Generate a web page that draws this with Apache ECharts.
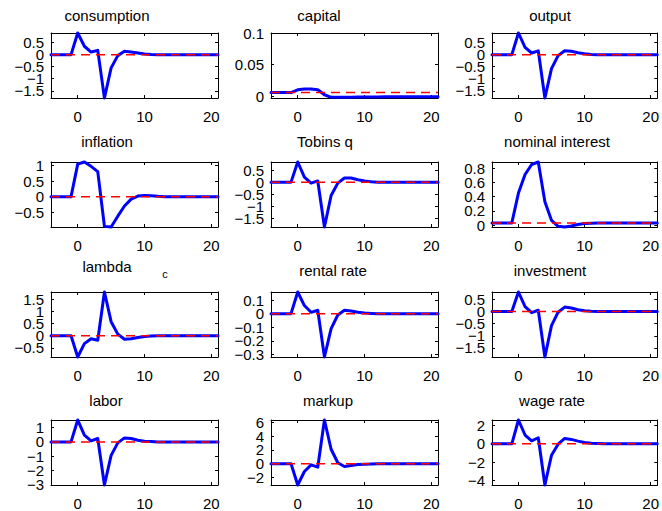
<!DOCTYPE html>
<html><head><meta charset="utf-8">
<script src="https://cdn.jsdelivr.net/npm/echarts@6/dist/echarts.min.js"></script>
<style>html,body{margin:0;padding:0;background:#fff}#c{width:662px;height:511px}</style>
</head><body><div id="c"></div>
<script>
const periods = [-4,-3,-2,-1,0,1,2,3,4,5,6,7,8,9,10,11,12,13,14,15,16,17,18,19,20,21];
const titles = ['consumption','capital','output','inflation','Tobins q','nominal interest','lambda','rental rate','investment','labor','markup','wage rate'];
const lambdaSub = 'c';

const consumption = [0,0,0,0,0.9,0.35,0.11,0.18,-1.8,-0.55,-0.04,0.14,0.11,0.07,0.03,0.01,0,0,0,0,0,0,0,0,0,0];
const capital = [0.006,0.006,0.006,0.006,0.0105,0.0116,0.0116,0.0105,0.0026,-0.0015,-0.0015,-0.0013,-0.0012,-0.0011,-0.001,-0.0009,-0.0008,-0.0007,-0.0007,-0.0006,-0.0006,-0.0005,-0.0005,-0.0004,-0.0004,-0.0004];
const output = [0,0,0,0,0.9,0.3,0.07,0.16,-1.8,-0.58,-0.04,0.16,0.14,0.08,0.04,0.01,0,0,0,0,0,0,0,0,0,0];
const inflation = [0,0,0,0,1.05,1.12,0.98,0.81,-0.96,-0.98,-0.63,-0.3,-0.08,0.02,0.04,0.03,0.01,0,0,0,0,0,0,0,0,0];
const tobinsQ = [0,0,0,0,0.83,0.21,-0.04,0.05,-1.85,-0.55,-0.04,0.17,0.17,0.1,0.05,0.02,0,0,0,0,0,0,0,0,0,0];
const nominalInterest = [0.033,0.033,0.033,0.033,0.45,0.71,0.85,0.885,0.33,0.07,-0.015,-0.024,-0.01,0.01,0.024,0.03,0.033,0.033,0.033,0.033,0.033,0.033,0.033,0.033,0.033,0.033];
const lambdaC = [0,0,0,0,-0.87,-0.32,-0.12,-0.18,1.8,0.58,0.07,-0.14,-0.12,-0.07,-0.03,-0.01,0,0,0,0,0,0,0,0,0,0];
const rentalRate = [0,0,0,0,0.16,0.06,0.01,0.025,-0.32,-0.11,-0.01,0.025,0.02,0.01,0.005,0.002,0,0,0,0,0,0,0,0,0,0];
const investment = [0,0,0,0,0.8,0.2,-0.05,0.05,-1.87,-0.58,-0.03,0.18,0.14,0.07,0.03,0.01,0,0,0,0,0,0,0,0,0,0];
const labor = [0,0,0,0,1.53,0.47,0.07,0.24,-3.01,-0.94,-0.07,0.28,0.24,0.12,0.05,0.02,0,0,0,0,0,0,0,0,0,0];
const markup = [0,0,0,0,-3.07,-1.12,-0.15,-0.49,6.34,2.1,0.15,-0.4,-0.25,-0.1,-0.05,-0.02,0,0,0,0,0,0,0,0,0,0];
const wageRate = [0,0,0,0,2.6,0.96,0.33,0.66,-4.5,-1.25,-0.04,0.59,0.48,0.29,0.15,0.07,0.03,0,0,0,0,0,0,0,0,0];

const steady = [0,0.006,0,0,0,0.033,0,0,0,0,0,0];
const yLow  = [-1.8,-0.0025,-1.8,-0.98,-1.85,-0.024,-0.87,-0.32,-1.87,-3.01,-3.07,-4.5];
const yHigh = [0.9,0.1,0.9,1.12,0.83,0.885,1.8,0.16,0.8,1.53,6.34,2.6];
const yStep = [0.5,0.05,0.5,0.5,0.5,0.2,0.5,0.1,0.5,1,2,2];
const xMin = -4, xMax = 21, xStep = 10;

const seriesValues = [consumption,capital,output,inflation,tobinsQ,nominalInterest,lambdaC,rentalRate,investment,labor,markup,wageRate];

// layout
const colLeft = [51, 271, 492];
const rowTop = [33, 162, 292, 420];
const boxW = 167, boxH = 65;
const titleX = [107,319,550,107,325,557,107,333,550,106,328,552];
const titleY = [15,141,270,400];
const FONT = '"Liberation Sans", Arial, Helvetica, sans-serif';

function isMult(v, s){ const r = v / s; return Math.abs(r - Math.round(r)) < 1e-6; }
function fmt(v){ const n = Number(v.toFixed(6)); const s = String(Math.abs(n)); return n < 0 ? '\u2212' + s : s; }

const grids = [], xAxes = [], yAxes = [], series = [], graphics = [];
for (let i = 0; i < 12; i++) {
  const r = Math.floor(i / 3), c = i % 3;
  grids.push({left: colLeft[c], top: rowTop[r], width: boxW, height: boxH, containLabel: false, show: false});
  const tick = {show: true, inside: true, length: 3, lineStyle: {color: '#000', width: 1}};
  const line = {show: true, onZero: false, lineStyle: {color: '#000', width: 1}};
  const lab = {color: '#000', fontSize: 15, fontFamily: FONT, hideOverlap: false};
  xAxes.push({gridIndex: i, type: 'value', position: 'bottom', min: xMin, max: xMax, minInterval: xStep, maxInterval: xStep,
    axisLine: line, axisTick: tick, splitLine: {show: false},
    axisLabel: Object.assign({margin: 11, showMinLabel: true, showMaxLabel: true, formatter: v => isMult(v, xStep) ? fmt(v) : ''}, lab)});
  xAxes.push({gridIndex: i, type: 'value', position: 'top', min: xMin, max: xMax, minInterval: xStep, maxInterval: xStep,
    axisLine: line, axisTick: tick, splitLine: {show: false}, axisLabel: {show: false}});
  const st = yStep[i];
  yAxes.push({gridIndex: i, type: 'value', position: 'left', min: yLow[i], max: yHigh[i], minInterval: st, maxInterval: st,
    axisLine: line, axisTick: tick, splitLine: {show: false},
    axisLabel: Object.assign({margin: 7, showMinLabel: true, showMaxLabel: true, formatter: v => isMult(v, st) ? fmt(v) : ''}, lab)});
  yAxes.push({gridIndex: i, type: 'value', position: 'right', min: yLow[i], max: yHigh[i], minInterval: st, maxInterval: st,
    axisLine: line, axisTick: tick, splitLine: {show: false}, axisLabel: {show: false}});
  const vals = seriesValues[i];
  series.push({type: 'line', xAxisIndex: 2 * i, yAxisIndex: 2 * i, data: periods.map((p, k) => [p, vals[k]]),
    symbol: 'none', showSymbol: false, clip: false, z: 2,
    lineStyle: {color: '#0000ff', width: 3, join: 'round', cap: 'round'}});
  series.push({type: 'line', xAxisIndex: 2 * i, yAxisIndex: 2 * i,
    data: [[periods[0], steady[i]], [periods[periods.length - 1], steady[i]]],
    symbol: 'none', showSymbol: false, z: 3,
    lineStyle: {color: '#ff0000', width: 1.5, type: [9, 6]}});
  graphics.push({type: 'text', x: titleX[i], y: titleY[r] - (i === 6 ? 4 : 0),
    style: {text: titles[i], fill: '#000', font: '15px ' + FONT, align: 'center', verticalAlign: 'middle', textAlign: 'center', textVerticalAlign: 'middle'}});
}
graphics.push({type: 'text', x: 165, y: 274,
  style: {text: lambdaSub, fill: '#000', font: '11px ' + FONT, align: 'center', verticalAlign: 'middle', textAlign: 'center', textVerticalAlign: 'middle'}});

const chart = echarts.init(document.getElementById('c'), null, {renderer: 'svg', width: 662, height: 511});
chart.setOption({animation: false, backgroundColor: '#fff', grid: grids, xAxis: xAxes, yAxis: yAxes, series: series, graphic: graphics});
</script></body></html>
